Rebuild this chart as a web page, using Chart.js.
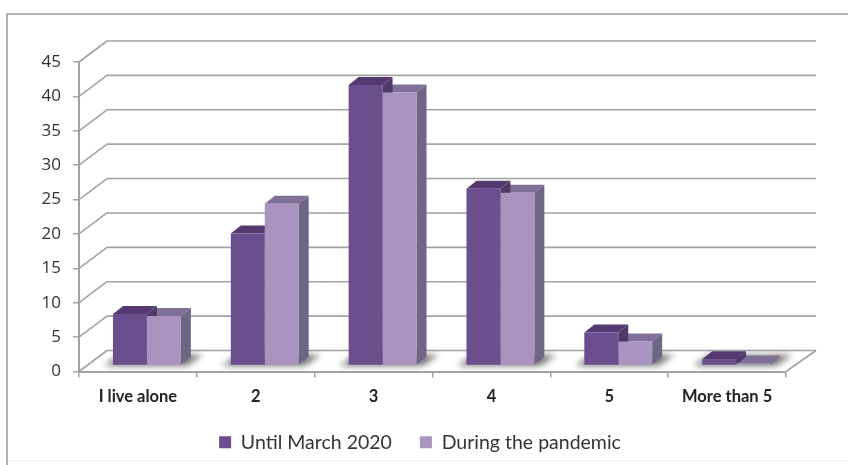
<!DOCTYPE html>
<html>
<head>
<meta charset="utf-8">
<style>
html,body{margin:0;padding:0;background:#fff;}
canvas{display:block;filter:blur(0.5px);}
</style>
<script src="https://cdn.jsdelivr.net/npm/chart.js@4"></script>
</head>
<body>
<canvas id="c" width="848" height="465"></canvas>
<script>
const categories = ["I live alone", "2", "3", "4", "5", "More than 5"];
const seriesNames = ["Until March 2020", "During the pandemic"];
const untilMarch = [7.5, 19.2, 40.8, 25.7, 4.8, 0.9];
const duringPandemic = [7.2, 23.5, 39.7, 25.1, 3.5, 0.3];
const yMax = 45;
const yStep = 5;

const GRID = "#a3a3a3";
const WALL = {dx: 28, dy: -21};
const BAR = {shiftX: 9, shiftY: -6, dx: 10, dy: 8};
const STYLE = [
  {front: "#6b4e8e", top: "#553a72", side: "#4e3a68"},
  {front: "#a993bf", top: "#7f7097", side: "#6f6686"}
];

function drawExtrusions(chart, index) {
  const c = chart.ctx, s = STYLE[index];
  chart.getDatasetMeta(index).data.forEach(el => {
    const l = el.x - el.width / 2, r = el.x + el.width / 2;
    c.fillStyle = s.side;
    c.beginPath();
    c.moveTo(r, el.y);
    c.lineTo(r + BAR.dx, el.y - BAR.dy);
    c.lineTo(r + BAR.dx, el.base - BAR.dy);
    c.lineTo(r, el.base);
    c.closePath();
    c.fill();
    c.fillStyle = s.top;
    c.beginPath();
    c.moveTo(l, el.y);
    c.lineTo(l + BAR.dx, el.y - BAR.dy);
    c.lineTo(r + BAR.dx, el.y - BAR.dy);
    c.lineTo(r, el.y);
    c.closePath();
    c.fill();
  });
}

const depthPlugin = {
  id: "depth",
  beforeDraw(chart) {
    const c = chart.ctx;
    c.save();
    c.fillStyle = "#fff";
    c.fillRect(0, 0, chart.width, chart.height);
    c.strokeStyle = "#9a9a9a";
    c.lineWidth = 1.5;
    c.beginPath();
    c.moveTo(7, chart.height);
    c.lineTo(7, 14);
    c.lineTo(chart.width, 14);
    c.stroke();
    c.strokeStyle = "#ececec";
    c.lineWidth = 1;
    c.beginPath();
    c.moveTo(8, 460.5);
    c.lineTo(chart.width, 460.5);
    c.stroke();
    c.restore();
  },
  afterLayout(chart) {
    const lg = chart.legend;
    lg.left += 27; lg.right += 27;
    lg.top -= 3; lg.bottom -= 3;
  },
  beforeDatasetsDraw(chart) {
    const c = chart.ctx, y = chart.scales.y, a = chart.chartArea;
    c.save();
    c.strokeStyle = GRID;
    c.lineWidth = 1.6;
    c.lineJoin = "round";
    y.ticks.forEach(t => {
      const py = y.getPixelForValue(t.value);
      c.beginPath();
      c.moveTo(a.left, py);
      c.lineTo(a.left + WALL.dx, py + WALL.dy);
      c.lineTo(a.right + WALL.dx + 2, py + WALL.dy);
      c.stroke();
    });
    const p0 = y.getPixelForValue(0);
    c.beginPath();
    c.moveTo(a.right, p0);
    c.lineTo(a.right + WALL.dx + 2, p0 + WALL.dy);
    c.stroke();
    const m0 = chart.getDatasetMeta(0).data, m1 = chart.getDatasetMeta(1).data;
    c.filter = "blur(3px)";
    c.fillStyle = "rgba(80,80,80,0.8)";
    m0.forEach((el, i) => {
      const l = el.x - el.width / 2 + BAR.shiftX;
      const r = m1[i].x + m1[i].width / 2 + BAR.shiftX;
      const b = el.base + BAR.shiftY;
      c.beginPath();
      c.moveTo(l - 9, b + 1);
      c.lineTo(l + 6, b - 9);
      c.lineTo(r + 22, b - 10);
      c.lineTo(r + 6, b + 1);
      c.closePath();
      c.fill();
    });
    c.restore();
    c.save();
    c.translate(BAR.shiftX, BAR.shiftY);
    // Chart.js paints the last dataset first, so both extrusions go in beneath both front faces.
    drawExtrusions(chart, 1);
    drawExtrusions(chart, 0);
  },
  afterDatasetsDraw(chart) {
    chart.ctx.restore();
  }
};

new Chart(document.getElementById("c"), {
  type: "bar",
  data: {
    labels: categories,
    datasets: [
      {label: seriesNames[0], data: untilMarch, backgroundColor: STYLE[0].front, borderWidth: 0},
      {label: seriesNames[1], data: duringPandemic, backgroundColor: STYLE[1].front, borderWidth: 0}
    ]
  },
  options: {
    responsive: false,
    animation: false,
    devicePixelRatio: 1,
    layout: {padding: {top: 62, left: 0, right: 62, bottom: 0}},
    datasets: {bar: {categoryPercentage: 0.576, barPercentage: 1}},
    scales: {
      x: {
        offset: true,
        grid: {offset: true, drawOnChartArea: false, drawTicks: true, tickLength: 6, color: GRID, lineWidth: 1.5},
        border: {color: GRID, width: 2},
        ticks: {padding: 9, color: "#222", maxRotation: 0, autoSkip: false, font: {family: "Lato", size: 16.5, weight: "bold"}},
        afterFit(s) { s.height = 36; }
      },
      y: {
        min: 0,
        max: yMax,
        ticks: {stepSize: yStep, padding: 12, color: "#333", font: {family: "Open Sans", size: 17}},
        grid: {drawOnChartArea: false, drawTicks: true, tickLength: 6, color: GRID, lineWidth: 1.5},
        border: {color: GRID, width: 2},
        afterFit(s) { s.width = 79; }
      }
    },
    plugins: {
      tooltip: {enabled: false},
      legend: {
        position: "bottom",
        labels: {
          boxWidth: 12,
          boxHeight: 12,
          padding: 28,
          color: "#333",
          font: {family: "Lato", size: 19.5}
        }
      }
    }
  },
  plugins: [depthPlugin]
});
</script>
</body>
</html>
